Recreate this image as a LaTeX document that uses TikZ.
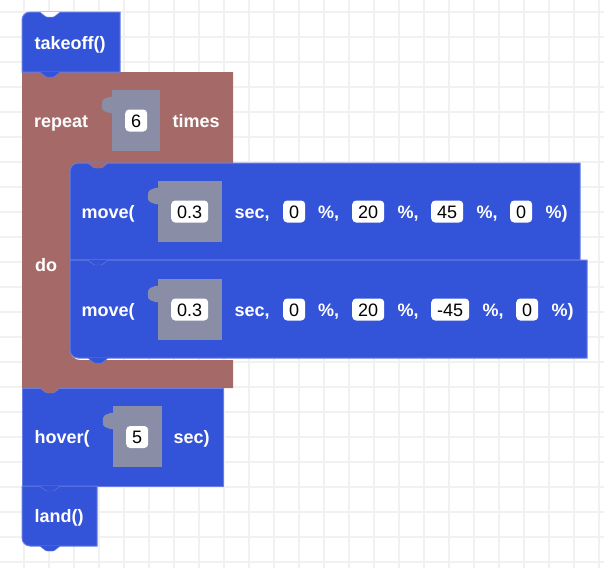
\documentclass[tikz,border=0pt]{standalone}
\usepackage{fontspec}
\setmainfont{Liberation Sans}

\definecolor{blockblue}{RGB}{51,83,216}
\definecolor{blueedge}{RGB}{104,126,226}
\definecolor{loopbrown}{RGB}{165,106,104}
\definecolor{socketgrey}{RGB}{137,141,165}
\definecolor{gridgrey}{RGB}{241,241,241}

% connection nub below a block, left end at (#1,#2)
\newcommand*{\nub}[2]{(#1,#2) -- ++(6,5) -- ++(8,0) -- ++(6,-5)}
% grey value socket with its puzzle tab: left, top, width
\newcommand*{\valsocket}[3]{%
	\fill[socketgrey] (#1,#2) rectangle ++(#3,61);
	\fill[socketgrey] (#1,#2+7) .. controls (#1-4,#2+6) and (#1-5,#2+9) .. (#1-8,#2+9)
		.. controls (#1-11,#2+10) and (#1-11,#2+21) .. (#1-8,#2+21)
		.. controls (#1-5,#2+21) and (#1-4,#2+24) .. (#1,#2+23) -- cycle;}

\begin{document}
\begin{tikzpicture}
[
	x=1pt,
	y=-1pt,
	gridline/.style={draw=gridgrey,line width=1.3pt},
	blueblock/.style={fill=blockblue,draw=blueedge,line width=1pt},
	loopblock/.style={fill=loopbrown},
	lbl/.style={text=white,font=\bfseries\fontsize{18}{20}\selectfont,anchor=west,inner sep=0pt,text height=13pt,text depth=0pt},
	valbox/.style={fill=white,rounded corners=4pt,text=black,font=\fontsize{18}{20}\selectfont,anchor=west,inner xsep=6pt,inner ysep=0pt,minimum height=22pt,text height=13pt,text depth=0pt}
]

	\useasboundingbox (0,0) rectangle (604,568);

	% workspace grid
	\foreach \gx in {24,49,...,599}
		\draw[gridline] (\gx,0) -- (\gx,568);
	\foreach \gy in {12,37,...,562}
		\draw[gridline] (0,\gy) -- (604,\gy);

	% repeat loop
	\fill[loopblock] (22,72) -- (233,72) -- (233,163) -- (78,163) -- (78,171) -- (70,171) -- (70,350)
		.. controls (70,355.5) and (74.5,360) .. (80,360) -- (233,360) -- (233,388) -- (22,388) -- cycle;

	% takeoff
	\draw[blueblock] (22,72) -- (22,20) .. controls (22,15.6) and (25.6,12) .. (30,12) -- (120,12) -- (120,72) -- cycle;
	\filldraw[fill=white,draw=blueedge,rounded corners=1pt] \nub{40}{12};
	\filldraw[fill=blockblue,draw=blueedge,rounded corners=1pt] \nub{40}{72};

	% two moves inside the loop
	\draw[blueblock] (70,260) -- (70,171) .. controls (70,166.6) and (73.6,163) .. (78,163) -- (580,163) -- (580,260) -- cycle;
	\filldraw[fill=loopbrown,draw=blueedge,rounded corners=1pt] \nub{88}{163};
	\draw[blueblock] (70,260) -- (587,260) -- (587,358) -- (78,358) .. controls (73.6,358) and (70,354.4) .. (70,350) -- cycle;
	\filldraw[fill=blockblue,draw=blueedge,rounded corners=1pt] \nub{88}{260};
	\filldraw[fill=blockblue,draw=blueedge,rounded corners=1pt] \nub{88}{358};

	% hover and land
	\draw[blueblock] (22,388) rectangle (223,486);
	\filldraw[fill=loopbrown,draw=blueedge,rounded corners=1pt] \nub{40}{388};
	\draw[blueblock] (22,486) -- (97,486) -- (97,546) -- (30,546) .. controls (25.6,546) and (22,542.4) .. (22,538) -- cycle;
	\filldraw[fill=blockblue,draw=blueedge,rounded corners=1pt] \nub{40}{486};
	\filldraw[fill=blockblue,draw=blueedge,rounded corners=1pt] \nub{40}{546};

	\node[lbl] (takeoff) at (34.5,42.5) {takeoff()};

	\valsocket{112}{90}{48}
	\node[lbl] (repeat) at (34,121) {repeat};
	\node[valbox] (count) at (125,120.5) {6};
	\node[lbl] (times) at (172.5,121) {times};
	\node[lbl] (do) at (35,265) {do};

	\foreach \r/\cy in {1/211.5,2/309.5} {
		\valsocket{158}{\cy-30.5}{64}
		\node[lbl] (move\r) at (81.5,\cy) {move(};
		\node[valbox] (dur\r) at (171,\cy) {0.3};
		\node[lbl] (sec\r) at (234.5,\cy) {sec,};
		\node[valbox] (fwd\r) at (283,\cy) {0};
		\node[lbl] (pa\r) at (318,\cy) {\%,};
		\node[valbox] (up\r) at (352,\cy) {20};
		\node[lbl] (pb\r) at (397.5,\cy) {\%,};
	}
	\node[valbox] (yaw1) at (431,211.5) {45};
	\node[lbl] (pc1) at (476.5,211.5) {\%,};
	\node[valbox] (alt1) at (510,211.5) {0};
	\node[lbl] (pd1) at (545.5,211.5) {\%)};
	\node[valbox] (yaw2) at (431,309.5) {-45};
	\node[lbl] (pc2) at (482.5,309.5) {\%,};
	\node[valbox] (alt2) at (516,309.5) {0};
	\node[lbl] (pd2) at (551.5,309.5) {\%)};

	\valsocket{113}{406}{49}
	\node[lbl] (hover) at (34.5,437) {hover(};
	\node[valbox] (wait) at (126,437) {5};
	\node[lbl] (hsec) at (173.5,437) {sec)};

	\node[lbl] (land) at (34.5,515.5) {land()};

\end{tikzpicture}
\end{document}
